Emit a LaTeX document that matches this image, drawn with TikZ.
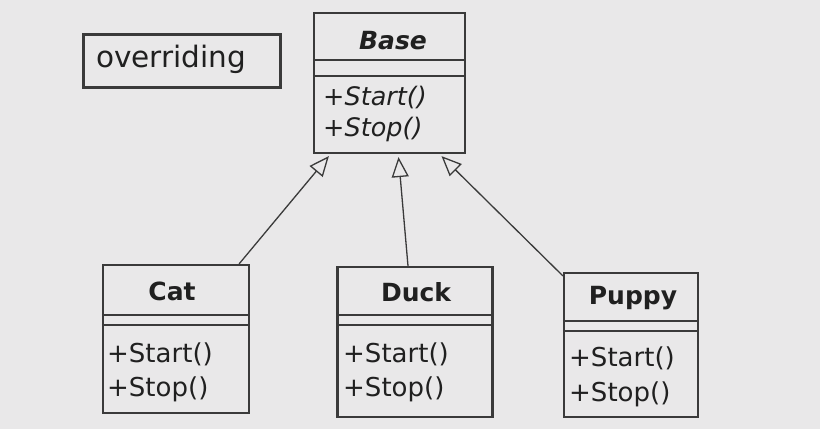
\documentclass[tikz,border=0pt]{standalone}
\usepackage{fontspec}
\setmainfont{DejaVu Sans}
\usetikzlibrary{arrows.meta,calc}
\definecolor{paper}{HTML}{E9E8E9}
\definecolor{ink}{HTML}{202020}
\definecolor{edge}{HTML}{3A3A3A}
\begin{document}
\begin{tikzpicture}[x=1pt,y=-1pt,
  classbox/.style={draw=edge,line width=2.2pt,fill=paper,inner sep=0pt},
  sepline/.style={draw=edge,line width=2pt},
  titletext/.style={text=ink,font=\fontsize{25}{29}\selectfont\bfseries,inner sep=0pt},
  methtext/.style={text=ink,font=\fontsize{26}{30}\selectfont,inner sep=0pt,anchor=west},
  basemeth/.style={text=ink,font=\fontsize{25.5}{29}\selectfont\itshape,inner sep=0pt,anchor=west},
  inherit/.style={draw=edge,line width=1.3pt,-{Triangle[open,length=20pt,width=17pt,line width=1.3pt,fill=paper]}}
]
\fill[paper] (0,0) rectangle (820,429);
\useasboundingbox (0,0) rectangle (820,429);

% overriding label
\node[classbox,minimum width=197pt,minimum height=53pt] (ovr) at (182,61) {};
\node[text=ink,font=\fontsize{29.5}{33}\selectfont,inner sep=0pt] (ovrtxt) at (171,59) {overriding};

% Base
\node[classbox,minimum width=151pt,minimum height=140pt] (base) at (389.5,83) {};
\draw[sepline] (base.west |- 0,60) -- (base.east |- 0,60);
\draw[sepline] (base.west |- 0,76) -- (base.east |- 0,76);
\node[titletext,font=\fontsize{25}{29}\selectfont\bfseries\itshape] (basetitle) at (393,41) {Base};
\node[basemeth] (bm1) at (323,98) {+Start()};
\node[basemeth] (bm2) at (323,129) {+Stop()};

% Cat
\node[classbox,minimum width=146pt,minimum height=148pt] (cat) at (176,339) {};
\draw[sepline] (cat.west |- 0,315) -- (cat.east |- 0,315);
\draw[sepline] (cat.west |- 0,325) -- (cat.east |- 0,325);
\node[titletext] (cattitle) at (172,291) {Cat};
\node[methtext] (cm1) at (107,354) {+Start()};
\node[methtext] (cm2) at (107,389) {+Stop()};

% Duck
\node[classbox,minimum width=155pt,minimum height=150pt] (duck) at (415,342) {};
\draw[sepline] (duck.west |- 0,315) -- (duck.east |- 0,315);
\draw[sepline] (duck.west |- 0,325) -- (duck.east |- 0,325);
\node[titletext] (ducktitle) at (416,292) {Duck};
\node[methtext] (dm1) at (343,354) {+Start()};
\node[methtext] (dm2) at (343,389) {+Stop()};

% Puppy
\node[classbox,minimum width=134pt,minimum height=144pt] (puppy) at (631,345) {};
\draw[sepline] (puppy.west |- 0,321) -- (puppy.east |- 0,321);
\draw[sepline] (puppy.west |- 0,331) -- (puppy.east |- 0,331);
\node[titletext] (puppytitle) at (633,298) {Puppy};
\node[methtext] (pm1) at (569,358) {+Start()};
\node[methtext] (pm2) at (569,394) {+Stop()};

% generalisation arrows
\coordinate (catend) at ($(cat.north east)+(-11,0)$);
\coordinate (duckend) at ($(duck.north)+(-7,0)$);
\coordinate (puppyend) at ($(puppy.north west)+(0,4)$);
\coordinate (tipcat) at ($(base.south west)+(16,2)$);
\coordinate (tipduck) at ($(base.south)+(9,3)$);
\coordinate (tippuppy) at ($(base.south)+(52,2)$);
\draw[inherit] (catend) -- (tipcat);
\draw[inherit] (duckend) -- (tipduck);
\draw[inherit] (puppyend) -- (tippuppy);
\end{tikzpicture}
\end{document}
